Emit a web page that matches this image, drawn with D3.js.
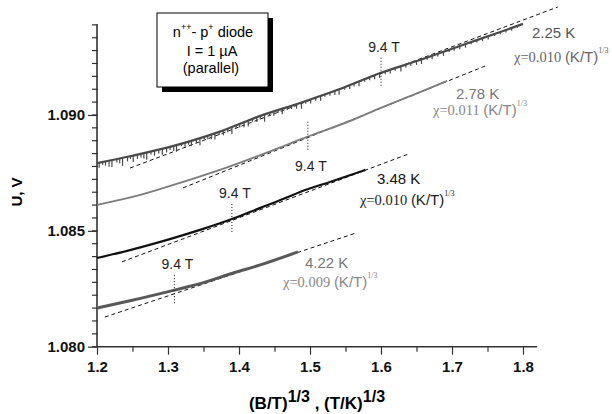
<!DOCTYPE html>
<html>
<head>
<meta charset="utf-8">
<script src="https://cdn.jsdelivr.net/npm/d3@7"></script>
<style>
  body { margin: 0; background: #fff; }
  text { font-family: Arial, "Liberation Sans", sans-serif; }
</style>
</head>
<body>
<div id="chart"></div>
<script>
// values, x = (B/T)^1/3, y = U in volts
const temps = ["2.25 K", "2.78 K", "3.48 K", "4.22 K"];
const chis = ["0.010", "0.011", "0.010", "0.009"];

const curve225 = [[1.200, 1.08792], [1.2465, 1.08822], [1.300, 1.08860], [1.373, 1.08928], [1.430, 1.08996],
  [1.486, 1.09052], [1.542, 1.09112], [1.599, 1.09181], [1.655, 1.09237], [1.711, 1.09298], [1.768, 1.09358], [1.800, 1.09393]];
const curve278 = [[1.200, 1.08612], [1.261, 1.08655], [1.317, 1.08707], [1.373, 1.08763], [1.430, 1.08827],
  [1.496, 1.08905], [1.556, 1.08974], [1.599, 1.09030], [1.655, 1.09099], [1.693, 1.09147]];
const curve348 = [[1.200, 1.08383], [1.2465, 1.08417], [1.299, 1.08461], [1.345, 1.08504], [1.390, 1.08551],
  [1.430, 1.08599], [1.462, 1.08637], [1.486, 1.08668], [1.528, 1.08711], [1.578, 1.08763]];
const curve422 = [[1.200, 1.08167], [1.2465, 1.08198], [1.309, 1.08244], [1.345, 1.08272], [1.392, 1.08318],
  [1.430, 1.08353], [1.483, 1.08409]];

// dashed straight fits (end points)
const fit225 = [[1.2465, 1.08771], [1.849, 1.09466]];
const fit278 = [[1.321, 1.08685], [1.7465, 1.09211]];
const fit348 = [[1.235, 1.08366], [1.639, 1.08832]];
const fit422 = [[1.211, 1.08128], [1.565, 1.08491]];

// downward spikes on the 2.25 K trace: [x, depth in V]
const spikes225 = [[1.203, 0.00022], [1.208, 0.00012], [1.212, 0.00018], [1.217, 0.00026], [1.221, 0.00030], [1.228, 0.00015],
  [1.232, 0.00021], [1.236, 0.00035], [1.243, 0.00020], [1.247, 0.00012], [1.251, 0.00028], [1.257, 0.00019], [1.262, 0.00016],
  [1.266, 0.00024], [1.270, 0.00032], [1.276, 0.00013], [1.281, 0.00022], [1.287, 0.00017], [1.292, 0.00026], [1.298, 0.00020],
  [1.303, 0.00014], [1.308, 0.00023], [1.312, 0.00030], [1.319, 0.00012], [1.324, 0.00020], [1.329, 0.00015], [1.333, 0.00024],
  [1.340, 0.00018], [1.345, 0.00033], [1.351, 0.00012], [1.356, 0.00017], [1.361, 0.00022], [1.366, 0.00027], [1.372, 0.00014],
  [1.378, 0.00021], [1.384, 0.00016], [1.390, 0.00030], [1.396, 0.00013], [1.401, 0.00016], [1.407, 0.00022], [1.413, 0.00026],
  [1.419, 0.00012], [1.425, 0.00020], [1.430, 0.00015], [1.436, 0.00031], [1.443, 0.00014], [1.449, 0.00018], [1.455, 0.00011],
  [1.461, 0.00024], [1.468, 0.00013], [1.474, 0.00015], [1.481, 0.00020], [1.488, 0.00027], [1.494, 0.00012], [1.501, 0.00019],
  [1.508, 0.00014], [1.515, 0.00022], [1.521, 0.00011], [1.528, 0.00014], [1.535, 0.00018], [1.541, 0.00024], [1.549, 0.00012],
  [1.556, 0.00017], [1.562, 0.00013], [1.569, 0.00021], [1.577, 0.00011], [1.584, 0.00013], [1.591, 0.00017], [1.598, 0.00020],
  [1.606, 0.00012], [1.613, 0.00016], [1.620, 0.00011], [1.628, 0.00022], [1.635, 0.00012], [1.642, 0.00013], [1.650, 0.00016],
  [1.657, 0.00019], [1.665, 0.00010], [1.672, 0.00015], [1.680, 0.00012], [1.688, 0.00018], [1.696, 0.00010], [1.703, 0.00012],
  [1.711, 0.00014], [1.719, 0.00016], [1.727, 0.00010], [1.735, 0.00011], [1.743, 0.00013], [1.751, 0.00014], [1.760, 0.00009],
  [1.768, 0.00010], [1.776, 0.00011], [1.784, 0.00012], [1.792, 0.00008]];

// where 9.4 T is reached on each trace
const field94 = [1.600, 1.497, 1.390, 1.309];

const xTicks = [1.2, 1.3, 1.4, 1.5, 1.6, 1.7, 1.8];
const xMinor = [1.25, 1.35, 1.45, 1.55, 1.65, 1.75];
const yTicks = [1.080, 1.085, 1.090];

const width = 612, height = 414;

const x = d3.scaleLinear().domain([1.2, 1.82]).range([97, 537.2]);
const y = d3.scaleLinear().domain([1.080, 1.0939]).range([346.7, 24.6]);

const svg = d3.select("#chart").append("svg")
  .attr("width", width)
  .attr("height", height);

const series = [
  { pts: curve225, fit: fit225, color: "#4a4a4a", w: 2.2, label: "#555", chi: "#666", markBelow: false },
  { pts: curve278, fit: fit278, color: "#7d7d7d", w: 1.9, label: "#777", chi: "#888", markBelow: true },
  { pts: curve348, fit: fit348, color: "#111", w: 2.2, label: "#111", chi: "#222", markBelow: false },
  { pts: curve422, fit: fit422, color: "#585858", w: 3, label: "#777", chi: "#888", markBelow: false }
];
// label anchors (px): [temp x, temp baseline, chi x, chi baseline]
const labelPos = [[532, 38, 514, 62], [456, 99, 433, 115], [377, 184, 360, 205], [305, 268, 283, 287]];

// axes
const yAxis = g => g
  .attr("transform", `translate(${x(1.2)},0)`)
  .call(d3.axisLeft(y).tickValues(yTicks).tickFormat(d3.format(".3f")).tickSize(9).tickPadding(3))
  .call(g => g.select(".domain").remove());

const yMinor = d3.range(1.080, 1.0939, 0.005 / 9);

svg.append("g")
  .attr("transform", `translate(${x(1.2)},0)`)
  .selectAll("line")
  .data(yMinor)
  .join("line")
  .attr("x1", -5).attr("x2", 1)
  .attr("y1", d => y(d)).attr("y2", d => y(d))
  .attr("stroke", "#333").attr("stroke-width", 1.2);

svg.append("g").call(yAxis);

svg.append("g")
  .attr("transform", `translate(0,${y(1.080)})`)
  .call(d3.axisBottom(x).tickValues(xMinor).tickSize(5).tickFormat(""))
  .call(g => g.select(".domain").remove());

svg.append("g")
  .attr("transform", `translate(0,${y(1.080)})`)
  .call(d3.axisBottom(x).tickValues(xTicks).tickFormat(d3.format(".1f")).tickSize(8).tickPadding(7))
  .call(g => g.select(".domain").remove());

svg.append("line")
  .attr("x1", x(1.2)).attr("x2", x(1.2))
  .attr("y1", y(1.0939)).attr("y2", y(1.080))
  .attr("stroke", "#333").attr("stroke-width", 1.6);
svg.append("line")
  .attr("x1", x(1.2)).attr("x2", x(1.82))
  .attr("y1", y(1.080)).attr("y2", y(1.080))
  .attr("stroke", "#333").attr("stroke-width", 1.6);

svg.selectAll(".tick line").attr("stroke", "#333").attr("stroke-width", 1.2);
svg.selectAll(".tick text")
  .attr("fill", "#111")
  .style("font-size", "15px")
  .style("font-weight", "bold");

// axis titles
svg.append("text")
  .attr("transform", "translate(22,192) rotate(-90)")
  .attr("text-anchor", "middle")
  .style("font-size", "15px")
  .style("font-weight", "bold")
  .text("U, V");

const xt = svg.append("text")
  .attr("x", 317).attr("y", 409)
  .attr("text-anchor", "middle")
  .style("font-size", "17px")
  .style("font-weight", "bold");
xt.append("tspan").text("(B/T)");
xt.append("tspan").attr("dy", -7).style("font-size", "16px").text("1/3");
xt.append("tspan").attr("dy", 7).text(" , (T/K)");
xt.append("tspan").attr("dy", -7).style("font-size", "16px").text("1/3");

// fits
const line = d3.line().x(d => x(d[0])).y(d => y(d[1]));
const smooth = d3.line().x(d => x(d[0])).y(d => y(d[1])).curve(d3.curveMonotoneX);

svg.append("g")
  .selectAll("path")
  .data(series)
  .join("path")
  .attr("fill", "none")
  .attr("stroke", "#111")
  .attr("stroke-width", 1)
  .attr("stroke-dasharray", "4,3")
  .attr("d", d => line(d.fit));

// traces
svg.append("g")
  .selectAll("path")
  .data(series)
  .join("path")
  .attr("fill", "none")
  .attr("stroke", d => d.color)
  .attr("stroke-width", d => d.w)
  .attr("stroke-linejoin", "round")
  .attr("d", d => smooth(d.pts));

const base225 = d3.scaleLinear().domain(curve225.map(d => d[0])).range(curve225.map(d => d[1]));
svg.append("g")
  .selectAll("line")
  .data(spikes225)
  .join("line")
  .attr("x1", d => x(d[0])).attr("x2", d => x(d[0]))
  .attr("y1", d => y(base225(d[0])))
  .attr("y2", d => y(base225(d[0]) - d[1]))
  .attr("stroke", "#4a4a4a")
  .attr("stroke-width", 1.2);

// 9.4 T markers
series.forEach((s, i) => {
  const base = d3.scaleLinear().domain(s.pts.map(d => d[0])).range(s.pts.map(d => d[1]));
  const px = x(field94[i]), py = y(base(field94[i]));
  svg.append("line")
    .attr("x1", px).attr("x2", px)
    .attr("y1", py - 15).attr("y2", py + 15)
    .attr("stroke", "#111")
    .attr("stroke-dasharray", "1,2");
  svg.append("text")
    .attr("x", px + 3)
    .attr("y", s.markBelow ? py + 34 : py - 21)
    .attr("text-anchor", "middle")
    .attr("fill", "#222")
    .style("font-size", "14px")
    .text("9.4 T");
});

// temperature / chi labels
series.forEach((s, i) => {
  const p = labelPos[i];
  svg.append("text")
    .attr("x", p[0]).attr("y", p[1])
    .attr("fill", s.label)
    .style("font-size", "15px")
    .text(temps[i]);
  const t = svg.append("text")
    .attr("x", p[2]).attr("y", p[3])
    .attr("fill", s.chi);
  t.append("tspan").style("font-family", "'Liberation Serif', 'Times New Roman', serif").style("font-size", "14.5px").text("\u03c7=" + chis[i] + " ");
  t.append("tspan").style("font-size", "15px").text("(K/T)");
  t.append("tspan").attr("dy", -9).style("font-family", "'Liberation Serif', serif").style("font-size", "8px").text("1/3");
});

// legend box
svg.append("rect")
  .attr("x", 162).attr("y", 18).attr("width", 111).attr("height", 74)
  .attr("fill", "#000");
svg.append("rect")
  .attr("x", 157).attr("y", 13).attr("width", 111).attr("height", 74)
  .attr("fill", "#fff").attr("stroke", "#000").attr("stroke-width", 1);

const leg = svg.append("g").attr("text-anchor", "middle").style("font-size", "14.5px");
const l1 = leg.append("text").attr("x", 213).attr("y", 37);
l1.append("tspan").text("n");
l1.append("tspan").attr("dy", -7).style("font-size", "9px").text("++");
l1.append("tspan").attr("dy", 7).text("- p");
l1.append("tspan").attr("dy", -7).style("font-size", "9px").text("+");
l1.append("tspan").attr("dy", 7).text(" diode");
leg.append("text").attr("x", 212).attr("y", 56).text("I = 1 \u00b5A");
leg.append("text").attr("x", 211).attr("y", 73).text("(parallel)");
</script>
</body>
</html>
